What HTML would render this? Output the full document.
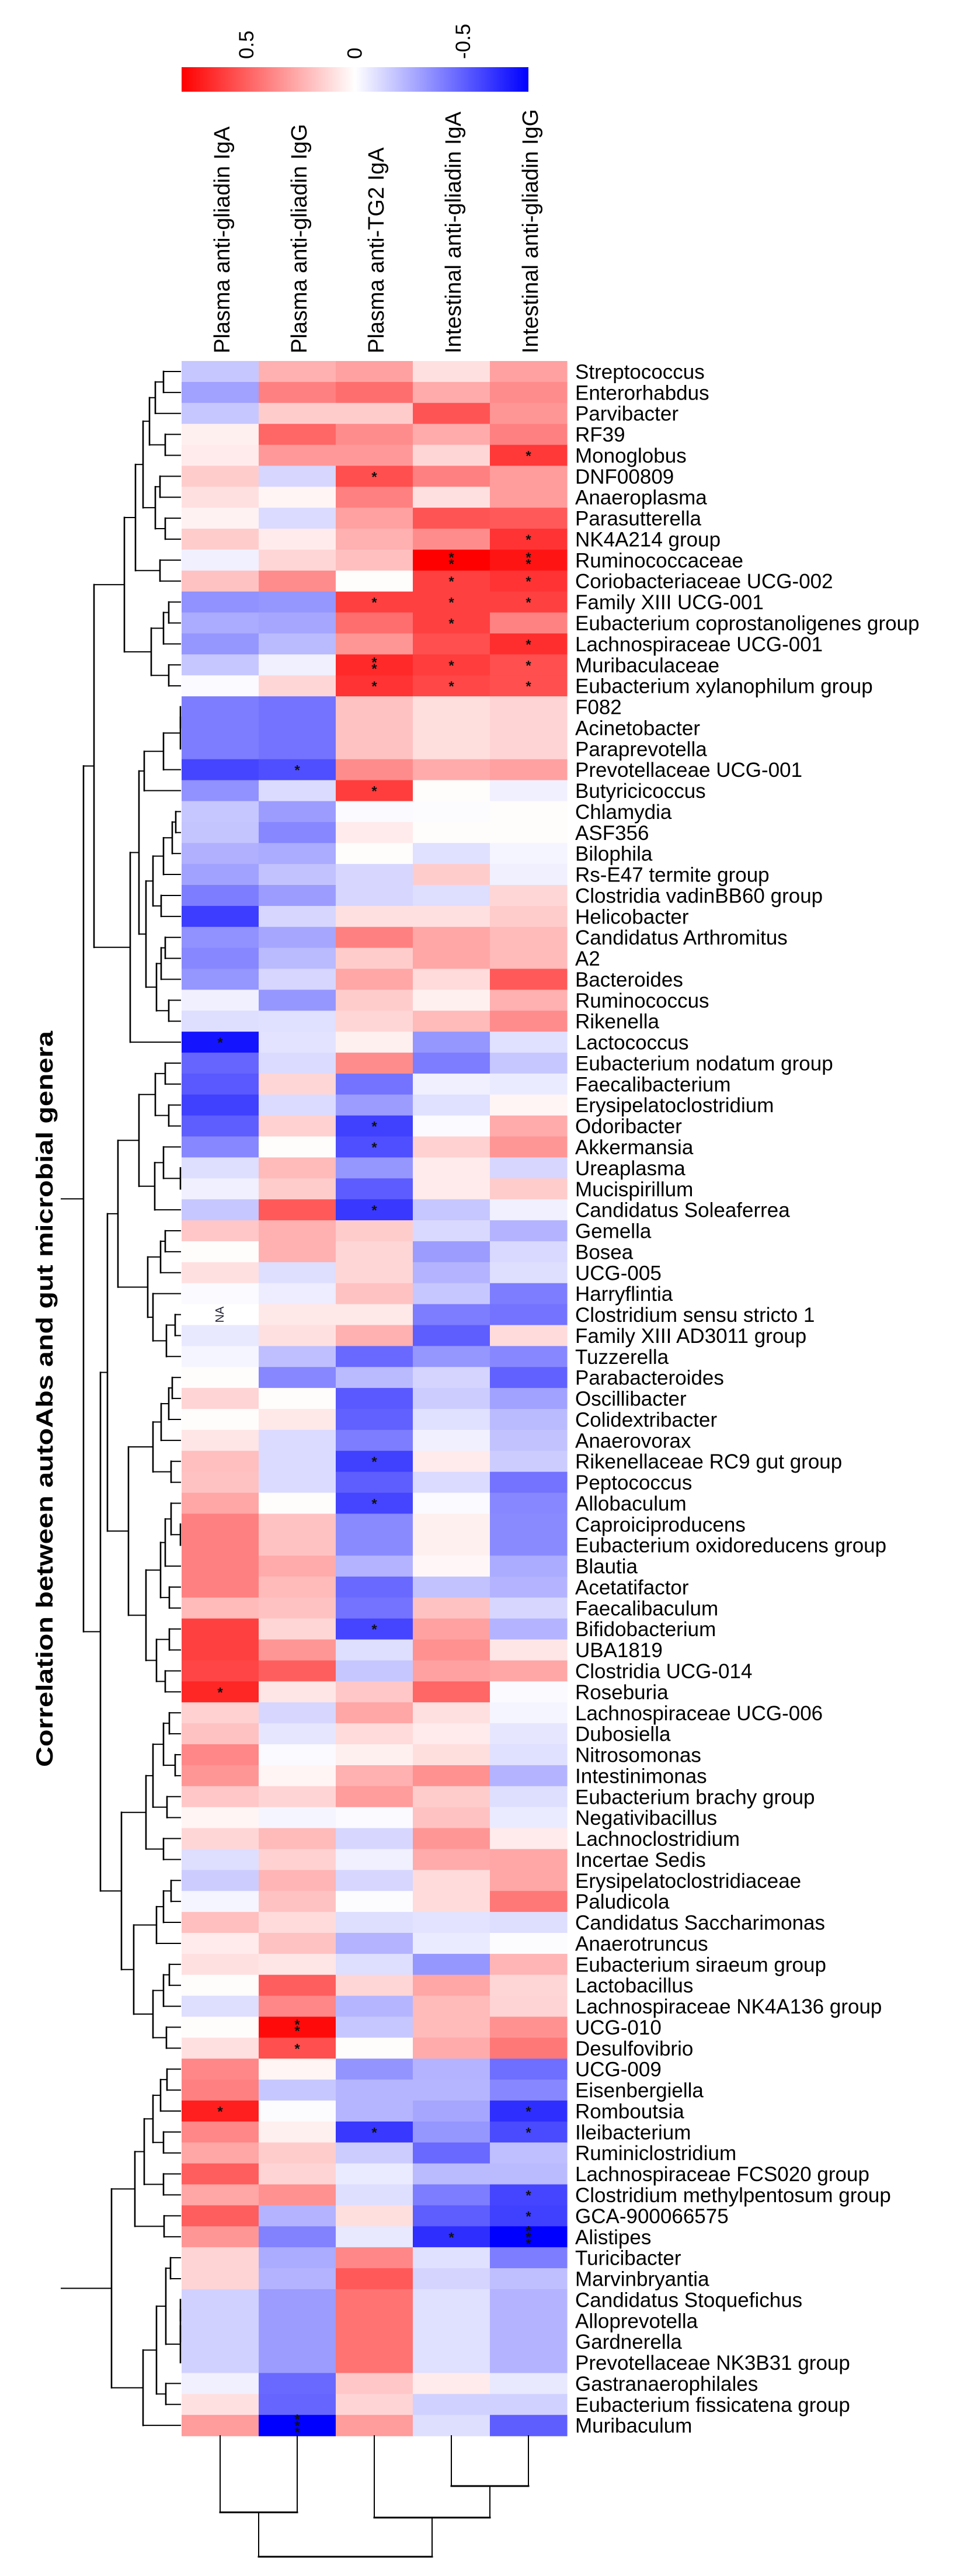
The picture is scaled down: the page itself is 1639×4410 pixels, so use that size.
<!DOCTYPE html>
<html><head><meta charset="utf-8"><title>Correlation heatmap</title>
<style>
html,body{margin:0;padding:0;background:#fff;}
svg{display:block;}
text{font-family:"Liberation Sans",Arial,sans-serif;}
</style></head>
<body>
<svg id="chart" xmlns="http://www.w3.org/2000/svg" width="1639" height="4410" viewBox="0 0 1639 4410">
<defs>
<linearGradient id="cbgrad" x1="0" x2="1" y1="0" y2="0">
<stop offset="0" stop-color="#ff0000"/><stop offset="0.5" stop-color="#ffffff"/><stop offset="1" stop-color="#0000ff"/>
</linearGradient>
</defs>
<g id="colorbar">
<rect x="311" y="115" width="594" height="42" fill="url(#cbgrad)"/>
</g>
<g id="collabels"></g>
<g id="cells"></g>
<g id="stars"></g>
<g id="rowlabels"></g>
<g id="rowdend"></g>
<g id="coldend"></g>
<text x="0" y="0" transform="translate(77,2395) rotate(-90)" text-anchor="middle" dominant-baseline="central" font-weight="bold" font-size="40" textLength="1260" lengthAdjust="spacingAndGlyphs">Correlation between autoAbs and gut microbial genera</text>
</svg>
<script>
// ---- data ----
const columns = ["Plasma anti-gliadin IgA","Plasma anti-gliadin IgG","Plasma anti-TG2 IgA","Intestinal anti-gliadin IgA","Intestinal anti-gliadin IgG"];
const genera = ["Streptococcus","Enterorhabdus","Parvibacter","RF39","Monoglobus","DNF00809","Anaeroplasma","Parasutterella","NK4A214 group","Ruminococcaceae","Coriobacteriaceae UCG-002","Family XIII UCG-001","Eubacterium coprostanoligenes group","Lachnospiraceae UCG-001","Muribaculaceae","Eubacterium xylanophilum group","F082","Acinetobacter","Paraprevotella","Prevotellaceae UCG-001","Butyricicoccus","Chlamydia","ASF356","Bilophila","Rs-E47 termite group","Clostridia vadinBB60 group","Helicobacter","Candidatus Arthromitus","A2","Bacteroides","Ruminococcus","Rikenella","Lactococcus","Eubacterium nodatum group","Faecalibacterium","Erysipelatoclostridium","Odoribacter","Akkermansia","Ureaplasma","Mucispirillum","Candidatus Soleaferrea","Gemella","Bosea","UCG-005","Harryflintia","Clostridium sensu stricto 1","Family XIII AD3011 group","Tuzzerella","Parabacteroides","Oscillibacter","Colidextribacter","Anaerovorax","Rikenellaceae RC9 gut group","Peptococcus","Allobaculum","Caproiciproducens","Eubacterium oxidoreducens group","Blautia","Acetatifactor","Faecalibaculum","Bifidobacterium","UBA1819","Clostridia UCG-014","Roseburia","Lachnospiraceae UCG-006","Dubosiella","Nitrosomonas","Intestinimonas","Eubacterium brachy group","Negativibacillus","Lachnoclostridium","Incertae Sedis","Erysipelatoclostridiaceae","Paludicola","Candidatus Saccharimonas","Anaerotruncus","Eubacterium siraeum group","Lactobacillus","Lachnospiraceae NK4A136 group","UCG-010","Desulfovibrio","UCG-009","Eisenbergiella","Romboutsia","Ileibacterium","Ruminiclostridium","Lachnospiraceae FCS020 group","Clostridium methylpentosum group","GCA-900066575","Alistipes","Turicibacter","Marvinbryantia","Candidatus Stoquefichus","Alloprevotella","Gardnerella","Prevotellaceae NK3B31 group","Gastranaerophilales","Eubacterium fissicatena group","Muribaculum"];
// correlation values scaled to colour range (1 = full red, -1 = full blue; colour range spans +/-0.8)
const plasmaGliadinIgA = [-.22,-.37,-.22,.06,.08,.2,.12,.05,.2,-.06,
.24,-.43,-.33,-.41,-.22,-.02,-.51,-.51,-.51,-.73,
-.43,-.22,-.23,-.31,-.37,-.51,-.76,-.43,-.47,-.41,
-.06,-.13,-.92,-.6,-.65,-.75,-.63,-.47,-.13,-.06,
-.22,.22,.01,.12,-.02,null,-.09,-.04,.01,.17,
.01,.1,.25,.24,.35,.5,.5,.5,.5,.27,
.75,.75,.73,.85,.18,.24,.47,.41,.22,.04,
.16,-.13,-.2,-.04,.25,.08,.12,.01,-.13,.01,
.12,.47,.5,.88,.47,.35,.63,.35,.63,.41,
.17,.17,-.18,-.18,-.18,-.18,-.06,.12,.39];
const plasmaGliadinIgG = [.31,.5,.2,.6,.4,-.16,.04,-.14,.08,.16,
.45,-.41,-.35,-.27,-.06,.16,-.55,-.55,-.55,-.69,
-.14,-.39,-.47,-.33,-.24,-.39,-.16,-.35,-.27,-.16,
-.41,-.12,-.11,-.14,.16,-.14,.18,.01,.27,.2,
.65,.31,.31,-.13,-.07,.09,.12,-.25,-.47,.01,
.09,-.14,-.14,-.14,.01,.24,.24,.33,.27,.24,
.16,.41,.63,.1,-.16,-.1,-.02,.04,.17,-.04,
.27,.18,.29,.24,.14,.24,.1,.63,.47,.96,
.69,.04,-.22,-.01,.06,.2,.17,.43,-.3,-.49,
-.33,-.3,-.39,-.39,-.39,-.39,-.59,-.6,-1];
const plasmaTG2IgA = [.37,.57,.2,.45,.4,.69,.5,.37,.31,.25,
.01,.75,.57,.41,.84,.8,.24,.24,.24,.45,
.76,-.02,.08,.01,-.16,-.16,.12,.5,.2,.35,
.2,.16,.06,.45,-.55,-.39,-.75,-.69,-.41,-.64,
-.78,.2,.16,.16,.24,.09,.31,-.59,-.27,-.65,
-.62,-.51,-.75,-.63,-.73,-.46,-.46,-.3,-.59,-.55,
-.73,-.13,-.22,.22,.35,.14,.06,.31,.39,-.02,
-.16,-.06,-.16,-.01,-.13,-.3,-.13,.16,-.29,-.22,
.01,-.42,-.29,-.29,-.78,-.2,-.08,-.13,.13,-.09,
.47,.65,.55,.55,.55,.55,.22,.17,.39];
const intestinalGliadinIgA = [.12,.33,.67,.33,.16,.5,.12,.67,.45,1,
.75,.75,.75,.69,.76,.72,.13,.13,.13,.33,
.01,-.01,.01,-.12,.2,-.13,.12,.35,.35,.14,
.06,.27,-.41,-.51,-.06,-.12,-.02,.18,.08,.08,
-.22,-.15,-.39,-.3,-.22,-.51,-.63,-.41,-.17,-.2,
-.12,-.06,.08,-.14,-.02,.06,.06,.03,-.24,.24,
.37,.43,.37,.6,.12,.08,.13,.43,.2,.24,
.41,.33,.14,.14,-.11,-.08,-.41,.35,.27,.27,
.33,-.3,-.29,-.35,-.41,-.59,-.27,-.51,-.63,-.82,
-.12,-.17,-.12,-.12,-.12,-.12,.08,-.18,-.13];
const intestinalGliadinIgG = [.37,.45,.41,.5,.78,.39,.39,.65,.8,.92,
.8,.75,.49,.82,.69,.69,.17,.17,.17,.37,
-.06,.01,.01,-.04,-.06,.16,.2,.27,.27,.65,
.31,.45,-.12,-.22,-.08,.04,.33,.41,-.16,.2,
-.06,-.3,-.15,-.13,-.51,-.55,.14,-.47,-.62,-.37,
-.27,-.24,-.2,-.55,-.47,-.46,-.46,-.33,-.3,-.16,
-.3,.1,.35,-.02,-.04,-.1,-.12,-.3,-.13,-.08,
.08,.35,.35,.53,-.13,-.01,.29,.16,.17,.43,
.53,-.57,-.47,-.82,-.71,-.25,-.27,-.73,-.75,-1,
-.51,-.25,-.3,-.3,-.3,-.3,-.09,-.18,-.63];
const sigRows = [5,6,9,10,10,11,11,12,12,12,13,14,15,15,15,16,16,16,20,21,33,37,38,41,53,55,61,64,80,81,84,84,85,85,88,89,90,90,99];
const sigCols = [5,3,5,4,5,4,5,3,4,5,4,5,3,4,5,3,4,5,2,3,1,3,3,3,3,3,3,1,2,2,1,5,3,5,5,5,4,5,2];
const sigLevels = [1,1,1,2,2,1,1,1,1,1,1,1,2,1,1,1,1,1,1,1,1,1,1,1,1,1,1,1,2,1,1,1,1,1,1,1,1,3,3];
const colorbarTicks = [0.5, 0, -0.5];
const colorbarTickLabels = ["0.5","0","-0.5"];
const COLOR_MAX = 0.8;
const series = [plasmaGliadinIgA, plasmaGliadinIgG, plasmaTG2IgA, intestinalGliadinIgA, intestinalGliadinIgG];

// ---- layout ----
const NS = "http://www.w3.org/2000/svg";
const X0 = 311, COLW = 132, Y0 = 618, ROWH = 35.88, LEAFX = 309;
function xCol(j){ return X0 + j*COLW; }
function yRow(i){ return Y0 + i*ROWH; }
function colour(v){
  if (v === null) return "#ffffff";
  v = Math.max(-1, Math.min(1, v));
  if (v >= 0){ const c = Math.round(255*(1-v)); return "rgb(255,"+c+","+c+")"; }
  const c = Math.round(255*(1+v)); return "rgb("+c+","+c+",255)";
}
function mk(tag, attrs, parent){
  const e = document.createElementNS(NS, tag);
  for (const k in attrs) e.setAttribute(k, attrs[k]);
  parent.appendChild(e); return e;
}

// colorbar ticks
const cb = document.getElementById("colorbar");
colorbarTicks.forEach((t, k) => {
  const x = 608 - (t/COLOR_MAX) * 297;
  const tx = mk("text", {x:0, y:0, transform:"translate("+x+",101) rotate(-90)", "font-size":"35", "dominant-baseline":"central"}, cb);
  tx.textContent = colorbarTickLabels[k];
  
  
});

// column labels
const cl = document.getElementById("collabels");
columns.forEach((c, j) => {
  const x = xCol(j) + COLW/2 + 4;
  const tx = mk("text", {x:0, y:0, transform:"translate("+x+",605) rotate(-90)", "font-size":"38", "dominant-baseline":"central"}, cl);
  tx.textContent = c;
  
  
});

// cells
const cg = document.getElementById("cells");
series.forEach((s, j) => {
  s.forEach((v, i) => {
    const r = mk("rect", {x:xCol(j), y:yRow(i), width:COLW+0.6, height:ROWH+0.6, fill:colour(v)}, cg);
    
    
    if (v === null){
      const t = mk("text", {x:0, y:0, transform:"translate("+(xCol(j)+COLW/2)+","+(yRow(i)+ROWH/2)+") rotate(-90)", "font-size":"20", "text-anchor":"middle", "dominant-baseline":"central", fill:"#223"}, cg);
      t.textContent = "NA";
      
      
    }
  });
});

// significance stars
const sg = document.getElementById("stars");
sigRows.forEach((r, k) => {
  const j = sigCols[k]-1, i = r-1, n = sigLevels[k];
  const cx = xCol(j) + COLW/2, cy = yRow(i) + ROWH/2;
  for (let m = 0; m < n; m++){
    const t = mk("text", {x:cx, y:cy + (m-(n-1)/2)*11 + 9, "font-size":"24", "font-weight":"bold", "text-anchor":"middle", fill:"#111"}, sg);
    t.textContent = "*";
    
    
  }
});

// row labels
const rl = document.getElementById("rowlabels");
genera.forEach((g, i) => {
  const t = mk("text", {x:985, y:yRow(i)+ROWH/2+1, "font-size":"35", "dominant-baseline":"central"}, rl);
  t.textContent = g;
  
  
});

// row dendrogram
const P1 = [232,[245,[256,[266,[280,1,2],3],[283,4,5]],[266,[274,6,7],[283,8,9]]],[274,10,11]];
const P2 = [259,[280,[289,12,13],14],[289,15,16]];
const P3 = [223,[238,[247,[280,[309,[309,17,18],19],20],21],[250,[262,[280,[295,[301,22,23],24],25],[276,26,27]],[268,[276,[283,28,29],30],[289,31,32]]]],33];
const PT = [161,[213,P1,P2],P3];
const Q1 = [202,[238,[266,[283,34,35],[289,36,37]],[265,[280,38,[309,39,40]],41]],[253,[275,[283,42,43],44],[262,45,[285,[300,46,47],48]]]];
const Q2 = [220,[262,[276,[289,[295,49,50],51],52],[293,53,54]],[250,[275,[283,[293,55,[309,56,57]],58],[290,59,60]],[268,[290,61,62],[283,63,64]]]];
const Q3 = [208,[250,[262,[280,[290,65,66],[300,67,68]],[286,69,70]],[280,71,72]],[229,[268,[280,[293,73,74],75],76],[262,[280,[290,77,78],79],[285,80,81]]]];
const TREE_A = [143,PT,[172,[184,Q1,Q2],Q3]];
const TREE_B = [191,[231,[247,[262,[275,[286,82,83],84],[280,85,86]],[280,87,88]],[281,89,90]],[245,[268,[284,[292,91,92],[309,[309,[309,93,94],95],96]],[284,97,98]],99]];
const rd = document.getElementById("rowdend");
function seg(x1,y1,x2,y2,w,parent,name){
  const l = mk("line",{x1:x1,y1:y1,x2:x2,y2:y2,stroke:"#000","stroke-width":w,"stroke-linecap":"square"},parent);
  
  
}
function drawRow(node){
  if (typeof node === "number") return {x:LEAFX, y:yRow(node-1)+ROWH/2};
  const a = drawRow(node[1]), b = drawRow(node[2]), x = node[0];
  seg(x,a.y,x,b.y,2.6,rd,'row-dendrogram-branch');
  seg(x,a.y,a.x,a.y,2,rd,'row-dendrogram-branch');
  seg(x,b.y,b.x,b.y,2,rd,'row-dendrogram-branch');
  return {x:x, y:(a.y+b.y)/2};
}
const ra = drawRow(TREE_A); seg(105,ra.y,ra.x,ra.y,2,rd,'row-dendrogram-root');
const rb = drawRow(TREE_B); seg(105,rb.y,rb.x,rb.y,2,rd,'row-dendrogram-root');

// column dendrogram
const COL_TREE = [4377,[4301,1,2],[4310,3,[4256,4,5]]];
const cd = document.getElementById("coldend");
function drawCol(node){
  if (typeof node === "number") return {y:4170, x:xCol(node-1)+COLW/2};
  const a = drawCol(node[1]), b = drawCol(node[2]), y = node[0];
  seg(a.x,y,b.x,y,3,cd,'column-dendrogram-branch');
  seg(a.x,y,a.x,a.y,2,cd,'column-dendrogram-branch');
  seg(b.x,y,b.x,b.y,2,cd,'column-dendrogram-branch');
  return {x:(a.x+b.x)/2, y:y};
}
drawCol(COL_TREE);
</script>
</body></html>
